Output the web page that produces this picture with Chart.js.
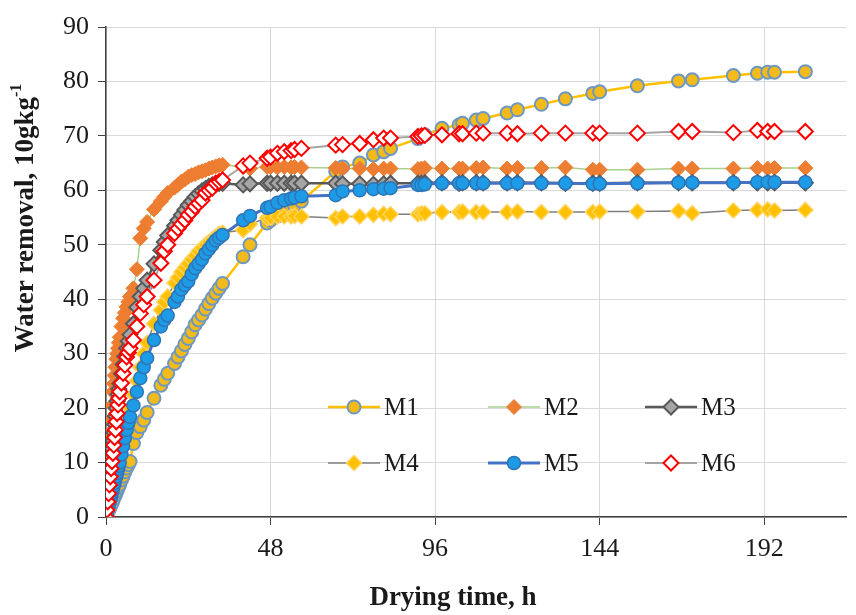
<!DOCTYPE html>
<html><head><meta charset="utf-8">
<script src="https://cdn.jsdelivr.net/npm/chart.js@4/dist/chart.umd.min.js"></script>
<style>html,body{margin:0;padding:0;background:#fff;}#wrap{width:856px;height:615px;position:relative;}</style>
</head><body><div id="wrap"><canvas id="c" width="856" height="615"></canvas></div>
<script>
// Drying time (h)
const hours = [0,0.25,0.5,0.75,1,1.25,1.5,1.75,2,2.25,2.5,2.75,3,3.25,3.5,3.75,4,
  4.5,5,5.5,6,6.5,7,8,9,10,11,12,
  14,16,17,18,20,21,22,23,24,25,26,27,28,29,30,31,32,33,34,
  40,42,47,48,50,52,54,55,57,
  67,69,74,78,81,83,91,92,93,98,103,104,108,110,
  117,120,127,134,142,144,155,167,171,183,190,193,195,204];

const M1 = [0,0.4,0.8,1.1,1.5,1.9,2.3,2.6,3,3.4,3.8,4.1,4.5,4.9,5.3,5.6,6,
  6.8,7.5,8.3,9,9.6,10.2,13.5,15.5,16.6,17.8,19.2,
  21.8,24.2,25.3,26.4,28.2,29.4,30.5,31.7,32.8,34,35.3,36.2,37.1,38.2,39.2,40.2,41.1,42,42.9,
  47.8,50,54,54.5,55.3,56,56.8,57.2,58,
  63.5,64.3,65,66.5,67.1,67.7,69.5,69.9,70.2,71.4,72,72.3,72.9,73.2,
  74.2,74.8,75.8,76.8,77.8,78.1,79.2,80.1,80.3,81.1,81.5,81.7,81.7,81.8];

const M2 = [0,3,6.5,9.5,12.5,15.5,18,20.5,23,24.5,26,27.5,29,30,31,32,33,
  35,36.5,37.5,38.6,39.5,40.5,42,45.5,51.2,53,54.2,
  56.5,58,58.8,59.5,60.5,61,61.6,62,62.5,62.8,63,63.3,63.5,63.7,64,64.2,64.4,64.6,64.7,
  64.3,64,64.3,64.3,64.2,64.3,64.2,64.3,64.2,
  64.1,64,64,63.9,64,64,63.9,64,64.1,64,64,64,64.1,64.2,
  64,64.1,64.1,64.2,63.8,63.8,63.8,64,64,64,64.1,64,64.1,64.1];

const M3 = [0,1.8,3.6,5.4,7.2,9,10.8,12.5,14,15.5,17,18.5,20,21.3,22.5,23.5,24.5,
  26.3,28,29.5,31,32.3,33.5,35.5,38.5,40.5,42,43.5,
  46.5,49,50.5,51.7,53.5,54.5,55.5,56.4,57.3,58,58.8,59.4,59.9,60.3,60.7,61,61.2,61.3,61.3,
  61,61.2,61.3,61.3,61.3,61.3,61.3,61.3,61.3,
  61.3,61.2,61.2,61.1,61.2,61.3,61.3,61.3,61.4,61.4,61.3,61.4,61.4,61.4,
  61.4,61.4,61.4,61.3,61.3,61.3,61.4,61.4,61.4,61.4,61.4,61.4,61.4,61.4];

const M4 = [0,0.7,1.4,2,2.6,3.3,4,4.7,5.4,6.1,6.8,7.5,8.2,8.9,9.6,10.3,11,
  12.6,14.2,15.8,17.4,18.8,20,22.5,25,27.5,30,32,
  35.5,38,39.5,40.5,43,44,45,45.8,46.5,47.3,48,48.8,49.4,50,50.5,51,51.5,52,52.2,
  52.7,53.8,54.9,55,55.2,55.2,55.2,55.3,55.2,
  54.9,55.2,55.2,55.5,55.7,55.6,55.6,55.8,55.8,56,56,56.1,56,56,
  56,56.1,56,56,56,56.1,56.1,56.2,55.8,56.3,56.4,56.5,56.3,56.4];

const M5 = [0,0.6,1.2,1.8,2.5,3.1,3.7,4.4,5,5.6,6.2,6.9,7.5,8.1,8.8,9.4,10,
  11.5,13,14.5,16,17.3,18.4,20.5,23,25.5,27.5,29.2,
  32.5,35,36.2,37,39.5,40.5,41.8,42.6,43.3,44.6,45.7,46.5,47.3,48.4,49.2,50,50.8,51.3,51.8,
  54.5,55.3,56.8,57,57.7,58.2,58.5,58.7,58.9,
  59.1,59.8,60,60.2,60.3,60.4,61,61,61.1,61.3,61.3,61.3,61.3,61.3,
  61.3,61.3,61.3,61.3,61.2,61.2,61.3,61.4,61.4,61.4,61.5,61.5,61.5,61.5];

const M6 = [0,1.3,2.8,4.3,5.9,7.4,8.9,10.2,11.7,13.2,14.6,16,17.5,19,20.6,21.8,23,
  24.6,26.4,27.9,29.4,30.2,31,32.5,35,37.4,39,40.5,
  43.5,46.6,48.8,50,52.1,53,53.8,54.5,55.5,56.1,57,57.6,58.2,59.5,60,60.4,61.3,61.6,61.9,
  64.5,65,65.9,66.1,66.8,67.1,67.3,67.5,67.7,
  68.3,68.4,68.6,69.3,69.6,69.6,69.9,70,70.1,70.2,70.4,70.4,70.5,70.5,
  70.5,70.4,70.5,70.5,70.5,70.5,70.5,70.8,70.8,70.6,71,70.8,70.8,70.8];

const seriesNames = ['M1','M2','M3','M4','M5','M6'];
const xTickValues = [0,48,96,144,192];
const yTickStep = 10;

const seriesValues = [M1,M2,M3,M4,M5,M6];
const styles = [
  {line:'#FFC000', lw:2.5, ps:'circle', r:6.5, bg:'#F2BA1B', bd:'#6E98C2', bw:2, order:5},
  {line:'#A9D18E', lw:1.5, ps:'rectRot', r:7.5, bg:'#ED7D31', bd:'#ED7D31', bw:1, order:4},
  {line:'#595959', lw:2.5, ps:'rectRot', r:7.5, bg:'#A5A5A5', bd:'#595959', bw:2, order:3},
  {line:'#7F7F7F', lw:1.5, ps:'rectRot', r:7.5, bg:'#FFC000', bd:'#FFD35C', bw:1.5, order:2},
  {line:'#4472C4', lw:3, ps:'circle', r:6.5, bg:'#1E9BE6', bd:'#2E75B6', bw:1.5, order:1},
  {line:'#A5A5A5', lw:2, ps:'rectRot', r:7.5, bg:'#FFFFFF', bd:'#FF0000', bw:2, order:0}
];

const datasets = seriesNames.map((name, k) => ({
  label: name,
  data: hours.map((h, i) => ({x: h, y: seriesValues[k][i]})),
  borderColor: styles[k].line,
  borderWidth: styles[k].lw,
  pointStyle: styles[k].ps,
  pointRadius: styles[k].r,
  pointBackgroundColor: styles[k].bg,
  pointBorderColor: styles[k].bd,
  pointBorderWidth: styles[k].bw,
  tension: 0,
  fill: false,
  order: styles[k].order
}));

const SERIF = '"Liberation Serif", "Times New Roman", serif';

const legendPos = [[328,407],[488,407],[645,407],[328,463],[488,463],[645,463]];

const extras = {
  id: 'extras',
  afterDatasetsDraw(chart) {
    const ctx = chart.ctx;
    ctx.save();
    // legend
    seriesNames.forEach((name, k) => {
      const [x, y] = legendPos[k];
      const s = styles[k];
      ctx.strokeStyle = s.line; ctx.lineWidth = s.lw;
      ctx.beginPath(); ctx.moveTo(x, y); ctx.lineTo(x + 52, y); ctx.stroke();
      ctx.fillStyle = s.bg; ctx.strokeStyle = s.bd; ctx.lineWidth = s.bw;
      Chart.helpers.drawPoint(ctx, {pointStyle: s.ps, rotation: 0, radius: s.r, borderWidth: s.bw}, x + 26, y);
      ctx.fillStyle = '#1a1a1a';
      ctx.font = '25px ' + SERIF;
      ctx.textBaseline = 'middle'; ctx.textAlign = 'left';
      ctx.fillText(name, x + 56, y + 1);
    });
    // y title
    ctx.translate(26, 218);
    ctx.rotate(-Math.PI / 2);
    const main = 'Water removal, 10gkg';
    const sup = '-1';
    ctx.font = 'bold 27px ' + SERIF;
    const w1 = ctx.measureText(main).width;
    ctx.font = 'bold 16px ' + SERIF;
    const w2 = ctx.measureText(sup).width;
    const x0 = -(w1 + w2) / 2;
    ctx.fillStyle = '#1a1a1a';
    ctx.textBaseline = 'middle'; ctx.textAlign = 'left';
    ctx.font = 'bold 27px ' + SERIF;
    ctx.fillText(main, x0, 0);
    ctx.font = 'bold 16px ' + SERIF;
    ctx.fillText(sup, x0 + w1, -9);
    ctx.restore();
    // x title
    ctx.save();
    ctx.fillStyle = '#1a1a1a';
    ctx.font = 'bold 27px ' + SERIF;
    ctx.textAlign = 'center'; ctx.textBaseline = 'middle';
    ctx.fillText('Drying time, h', 453, 598);
    ctx.restore();
  }
};

new Chart(document.getElementById('c'), {
  type: 'line',
  data: { datasets },
  options: {
    responsive: false,
    animation: false,
    devicePixelRatio: 1,
    layout: { padding: { top: 27, right: 1, left: 0, bottom: 0 } },
    plugins: { legend: { display: false }, tooltip: { enabled: false } },
    scales: {
      x: {
        type: 'linear', min: 0, max: 216,
        ticks: { stepSize: 48, color: '#1a1a1a', font: { family: SERIF, size: 26 }, padding: 9, maxRotation: 0 },
        afterBuildTicks: (axis) => { axis.ticks = xTickValues.map(v => ({ value: v })); },
        afterFit: (axis) => { axis.height = 98; },
        grid: { color: '#D9D9D9', lineWidth: 1, tickLength: 8, tickColor: '#404040' },
        border: { color: '#404040', width: 1.5 }
      },
      y: {
        type: 'linear', min: 0, max: 90,
        ticks: { stepSize: yTickStep, color: '#1a1a1a', font: { family: SERIF, size: 26 }, padding: 9 },
        afterFit: (axis) => { axis.width = 106; },
        grid: { color: '#D9D9D9', lineWidth: 1, tickLength: 8, tickColor: '#404040' },
        border: { color: '#404040', width: 1.5 }
      }
    }
  },
  plugins: [extras]
});
</script></body></html>
